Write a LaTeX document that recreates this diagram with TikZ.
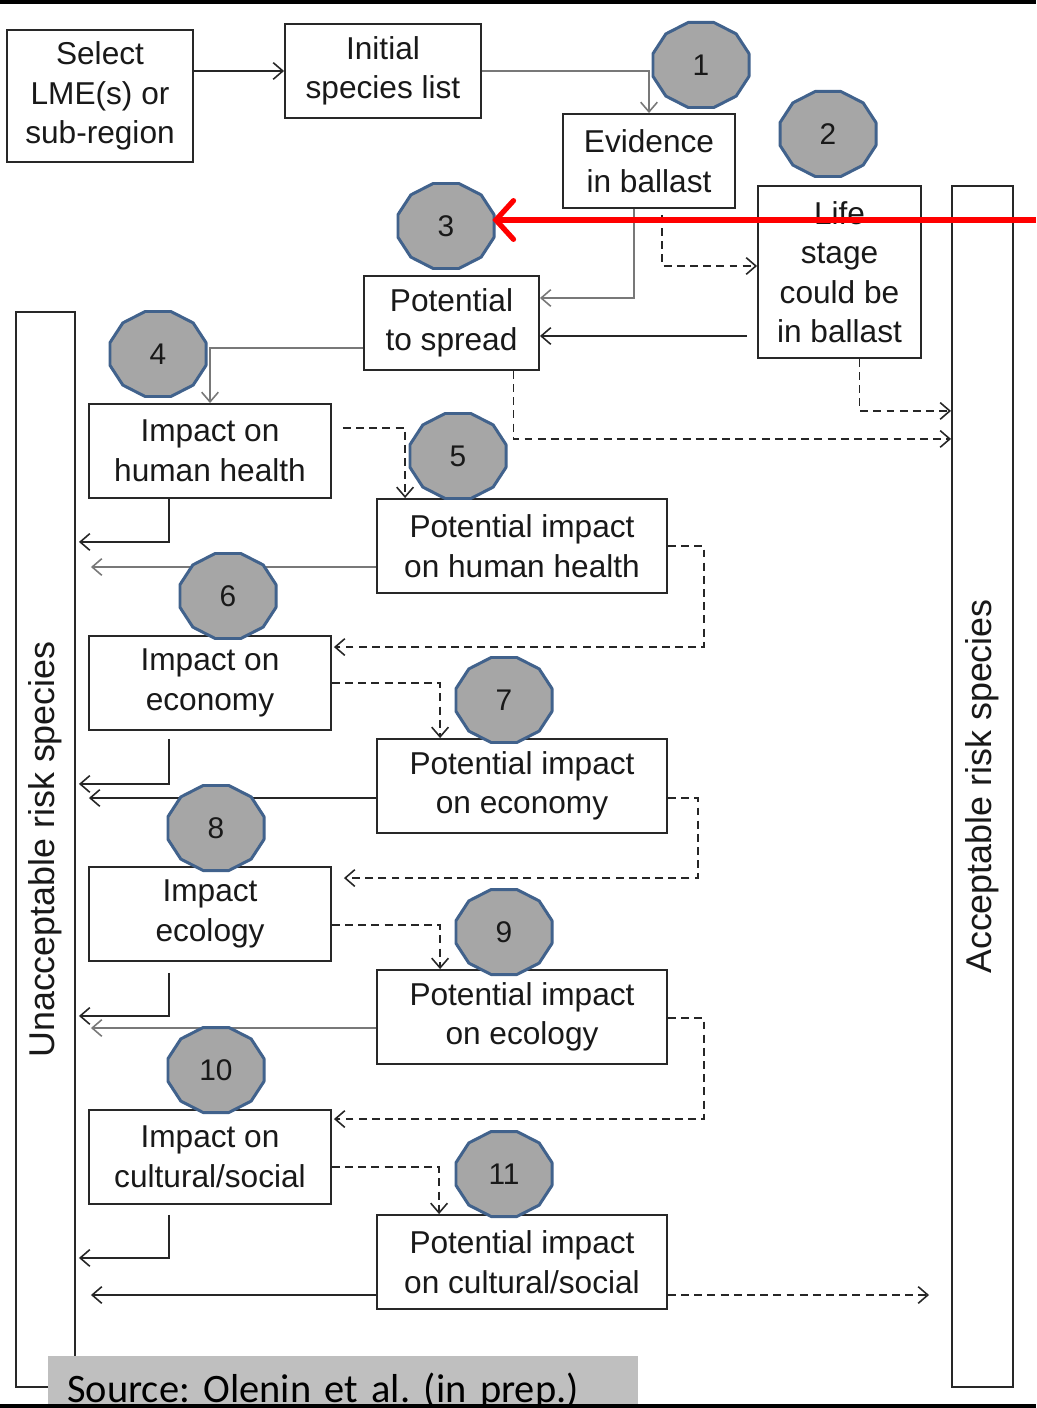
\documentclass[tikz,border=0pt]{standalone}
\usepackage{fontspec}
\setmainfont{Liberation Sans}
\newfontfamily\srcfont{Carlito}
\usetikzlibrary{arrows.meta}
\usetikzlibrary{calc}
\usetikzlibrary{shapes.geometric}
\definecolor{boxline}{RGB}{40,40,40}
\definecolor{linegray}{RGB}{120,120,120}
\definecolor{ballgray}{RGB}{166,166,166}
\definecolor{ballblue}{RGB}{65,98,140}
\definecolor{srcgray}{RGB}{191,191,191}
\tikzset{box/.style={draw=boxline, line width=1.1pt, fill=white, align=center, inner sep=0pt, text=black!90, font=\fontsize{18}{22.5}\selectfont}}
\tikzset{impbox/.style={box, minimum width=4.84cm, minimum height=1.88cm}}
\tikzset{potbox/.style={box, minimum width=5.8cm, minimum height=1.88cm}}
\tikzset{barbox/.style={draw=boxline, line width=1.1pt, inner sep=0pt}}
\tikzset{barlabel/.style={rotate=90, inner sep=0pt, text=black!90, font=\fontsize{20.4}{24}\selectfont}}
\tikzset{ballshape/.style={fill=ballgray, draw=ballblue, line width=1.7pt, line join=round}}
\tikzset{numball/.style={ellipse, minimum width=1.92cm, minimum height=1.7cm, inner sep=0pt, text=black!90, font=\fontsize{17}{20}\selectfont}}
\tikzset{solidarrow/.style={draw=black!85, line width=0.9pt, -{Straight Barb[length=5.5pt, width=9.5pt]}}}
\tikzset{grayarrow/.style={solidarrow, draw=linegray}}
\tikzset{dasharrow/.style={solidarrow, dash pattern=on 4.5pt off 3pt}}
\tikzset{redarrow/.style={draw=red, line width=3pt, line join=round, -{Straight Barb[length=10pt, width=22pt, line cap=round]}}}

\begin{document}
\begin{tikzpicture}[x=0.02cm, y=-0.02cm]
\useasboundingbox (0,0) rectangle (1036,1408);
\fill[white] (0,0) rectangle (1036,1408);
\fill[black] (0,0) rectangle (1036,4);
\node[box, minimum width=3.72cm, minimum height=2.64cm] (select) at (100,96) {Select\\LME(s) or\\sub-region};
\node[box, minimum width=3.92cm, minimum height=1.88cm] (initial) at (383,71) {Initial\\species list};
\node[box, minimum width=3.44cm, minimum height=1.88cm] (evidence) at (649,161) {Evidence\\in ballast};
\node[box, minimum width=3.26cm, minimum height=3.44cm] (lifestage) at (839.5,272) {Life\\stage\\could be\\in ballast};
\node[box, minimum width=3.5cm, minimum height=1.88cm] (spread) at (451.5,323) {Potential\\to spread};
\node[barbox, minimum width=1.18cm, minimum height=21.5cm] (unacc) at (45.5,849.5) {};
\node[barbox, minimum width=1.22cm, minimum height=24.02cm] (acc) at (982.5,786.5) {};
\node[barlabel] (unacclabel) at (unacc) {Unacceptable risk species};
\node[barlabel] (acclabel) at (acc) {Acceptable risk species};
\node[impbox] (ihh) at (210,451) {Impact on\\human health};
\node[potbox] (pihh) at (522,546) {Potential impact\\on human health};
\node[impbox] (iec) at (210,683) {Impact on\\economy};
\node[potbox] (piec) at (522,786) {Potential impact\\on economy};
\node[impbox] (ieco) at (210,914) {Impact\\ecology};
\node[potbox] (pieco) at (522,1017) {Potential impact\\on ecology};
\node[impbox] (icul) at (210,1157) {Impact on\\cultural/social};
\node[potbox] (picul) at (522,1262) {Potential impact\\on cultural/social};
\draw[solidarrow] (select.east |- initial.west) -- (initial.west);
\draw[grayarrow] (initial.east) -| (evidence.north);
\draw[grayarrow] ($(evidence.south)+(-15,0)$) |- ($(spread.east)+(0,-25)$);
\draw[dasharrow] ($(evidence.south)+(13,6)$) |- ($(lifestage.west)+(0,-6)$);
\draw[solidarrow] ($(lifestage.west)+(-10,64)$) -- ($(spread.east)+(0,13)$);
\draw[dasharrow] ($(lifestage.south)+(20,0)$) |- ($(acc.west |- lifestage.south)+(0,52)$);
\draw[dasharrow] ($(spread.south)+(62,0)$) |- ($(acc.west |- spread.south)+(0,68)$);
\draw[grayarrow] ($(spread.west)+(0,25)$) -| (ihh.north);
\draw[dasharrow] ($(ihh.east)+(11,-23)$) -| ($(pihh.north west)+(29,0)$);
\draw[solidarrow] ($(ihh.south)+(-41,0)$) |- ($(unacc.east |- ihh.south)+(3,43)$);
\draw[grayarrow] ($(pihh.west)+(0,21)$) -- ($(unacc.east |- pihh.west)+(15,21)$);
\draw[dasharrow] (pihh.east) -- ++(36,0) |- ($(iec.north east)+(2,12)$);
\draw[dasharrow] (iec.east) -| ($(piec.north west)+(64,0)$);
\draw[solidarrow] ($(iec.south)+(-41,8)$) |- ($(unacc.east |- iec.south)+(3,53)$);
\draw[solidarrow] ($(piec.west)+(0,12)$) -- ($(unacc.east |- piec.west)+(13,12)$);
\draw[dasharrow] ($(piec.east)+(0,12)$) -- ++(30,0) |- ($(ieco.north east)+(12,12)$);
\draw[dasharrow] ($(ieco.east)+(0,11)$) -| ($(pieco.north west)+(64,0)$);
\draw[solidarrow] ($(ieco.south)+(-41,11)$) |- ($(unacc.east |- ieco.south)+(3,54)$);
\draw[grayarrow] ($(pieco.west)+(0,11)$) -- ($(unacc.east |- pieco.west)+(15,11)$);
\draw[dasharrow] ($(pieco.east)+(0,1)$) -- ++(36,0) |- ($(icul.north east)+(2,10)$);
\draw[dasharrow] ($(icul.east)+(0,10)$) -| ($(picul.north west)+(63,0)$);
\draw[solidarrow] ($(icul.south)+(-41,10)$) |- ($(unacc.east |- icul.south)+(3,53)$);
\draw[solidarrow] ($(picul.west)+(0,33)$) -- ($(unacc.east |- picul.west)+(15,33)$);
\draw[dasharrow] ($(picul.east)+(0,33)$) -- ($(acc.west |- picul.east)+(-22,33)$);
\filldraw[ballshape, shift={(701,65)}] plot[samples=12, domain=15:345, variable=\t] ({49.7*cos(\t)}, {44*sin(\t)}) -- cycle;
\node[numball] (n1) at (701,65) {1};
\filldraw[ballshape, shift={(828,134)}] plot[samples=12, domain=15:345, variable=\t] ({49.7*cos(\t)}, {44*sin(\t)}) -- cycle;
\node[numball] (n2) at (828,134) {2};
\filldraw[ballshape, shift={(446,226)}] plot[samples=12, domain=15:345, variable=\t] ({49.7*cos(\t)}, {44*sin(\t)}) -- cycle;
\node[numball] (n3) at (446,226) {3};
\filldraw[ballshape, shift={(158,354)}] plot[samples=12, domain=15:345, variable=\t] ({49.7*cos(\t)}, {44*sin(\t)}) -- cycle;
\node[numball] (n4) at (158,354) {4};
\filldraw[ballshape, shift={(458,456)}] plot[samples=12, domain=15:345, variable=\t] ({49.7*cos(\t)}, {44*sin(\t)}) -- cycle;
\node[numball] (n5) at (458,456) {5};
\filldraw[ballshape, shift={(228,596)}] plot[samples=12, domain=15:345, variable=\t] ({49.7*cos(\t)}, {44*sin(\t)}) -- cycle;
\node[numball] (n6) at (228,596) {6};
\filldraw[ballshape, shift={(504,700)}] plot[samples=12, domain=15:345, variable=\t] ({49.7*cos(\t)}, {44*sin(\t)}) -- cycle;
\node[numball] (n7) at (504,700) {7};
\filldraw[ballshape, shift={(216,828)}] plot[samples=12, domain=15:345, variable=\t] ({49.7*cos(\t)}, {44*sin(\t)}) -- cycle;
\node[numball] (n8) at (216,828) {8};
\filldraw[ballshape, shift={(504,932)}] plot[samples=12, domain=15:345, variable=\t] ({49.7*cos(\t)}, {44*sin(\t)}) -- cycle;
\node[numball] (n9) at (504,932) {9};
\filldraw[ballshape, shift={(216,1070)}] plot[samples=12, domain=15:345, variable=\t] ({49.7*cos(\t)}, {44*sin(\t)}) -- cycle;
\node[numball] (n10) at (216,1070) {10};
\filldraw[ballshape, shift={(504,1174)}] plot[samples=12, domain=15:345, variable=\t] ({49.7*cos(\t)}, {44*sin(\t)}) -- cycle;
\node[numball] (n11) at (504,1174) {11};
\coordinate (redstart) at (1036,220);
\draw[redarrow] (redstart) -- ($(redstart -| n3.east)+(-2,0)$);
\node[fill=srcgray, anchor=north west, inner xsep=0.38cm, inner ysep=0pt, text width=11.04cm, align=left, text height=26pt, text depth=3.5pt, font=\srcfont\fontsize{23}{27}\selectfont\frenchspacing] (source) at (48,1356) {Source: Olenin et al. (in prep.)};
\fill[black] (0,1404) rectangle (1036,1408);
\end{tikzpicture}
\end{document}
